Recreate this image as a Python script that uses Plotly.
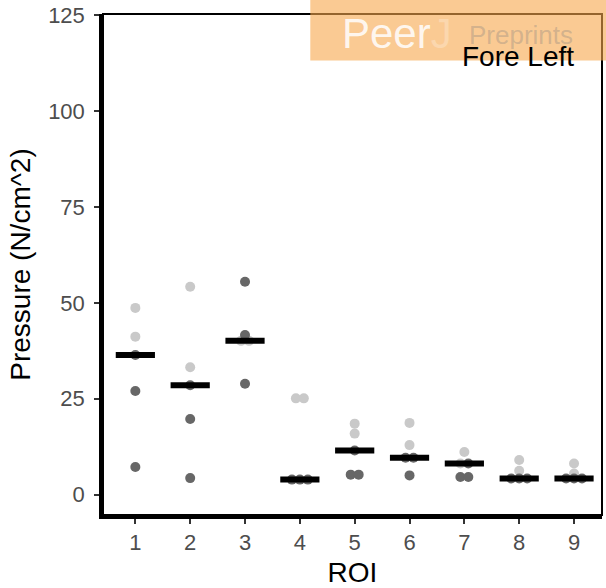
import numpy as np
import plotly.graph_objects as go

# ---- data ----
roi = [1, 2, 3, 4, 5, 6, 7, 8, 9]
light_vals = [[48.7, 41.2], [54.2, 33.2], [40.1, 40.1], [25.1, 25.1], [18.5, 15.9],
              [18.7, 12.9], [11.1, 8.1], [9.0, 6.2], [8.1, 5.5]]
dark_vals = [[36.4, 27.0, 7.2], [28.5, 19.7, 4.3], [55.5, 41.6, 28.9], [3.9, 3.9, 3.9],
             [11.5, 5.2, 5.2], [9.6, 9.6, 5.0], [8.1, 4.6, 4.6], [4.2, 4.2, 4.2], [4.2, 4.2, 4.2]]
y_ticks = [0, 25, 50, 75, 100, 125]
x_title = "ROI"
y_title = "Pressure (N/cm^2)"
panel_label = "Fore Left"

LIGHT = "#c9c9c9"
DARK = "#676767"
FONT = "Liberation Sans, Arial, Helvetica, sans-serif"
DODGE = 0.145

# dodge points of equal value side by side
lx, ly, dx, dy = [], [], [], []
for r, lv, dv in zip(roi, light_vals, dark_vals):
    pts = [(v, "L") for v in lv] + [(v, "D") for v in dv]
    groups = {}
    for v, c in pts:
        groups.setdefault(v, []).append(c)
    for v, cs in groups.items():
        n = len(cs)
        for k, c in enumerate(cs):
            off = (k - (n - 1) / 2) * DODGE
            if c == "L":
                lx.append(r + off); ly.append(v)
            else:
                dx.append(r + off); dy.append(v)

medians = [float(np.median(l + d)) for l, d in zip(light_vals, dark_vals)]

fig = go.Figure()
fig.add_trace(go.Scatter(x=lx, y=ly, mode="markers",
                         marker=dict(color=LIGHT, size=10, line=dict(width=0)),
                         showlegend=False, hoverinfo="skip"))
fig.add_trace(go.Scatter(x=dx, y=dy, mode="markers",
                         marker=dict(color=DARK, size=10, line=dict(width=0)),
                         showlegend=False, hoverinfo="skip"))
# median crossbars
fig.add_trace(go.Scatter(x=roi, y=medians, mode="markers",
                         marker=dict(symbol="line-ew-open", size=28, color="black",
                                     line=dict(color="black", width=6)),
                         showlegend=False, hoverinfo="skip"))

fig.add_annotation(x=9.04, y=114.2, xref="x", yref="y", text=panel_label,
                   showarrow=False, xanchor="right", yanchor="middle",
                   font=dict(family=FONT, size=28, color="black"))

# PeerJ Preprints watermark (pixel positions converted to paper coords)
L, R, T, B = 102.5, 602.0, 14.3, 514.7
def px(x):
    return (x - L) / (R - L)
def py(y):
    return (B - y) / (B - T)

# thin panel border (top/right)
fig.add_shape(type="rect", xref="paper", yref="paper", x0=0, x1=1, y0=0, y1=1,
              line=dict(color="black", width=2), fillcolor="rgba(0,0,0,0)", layer="above")

fig.add_shape(type="rect", xref="paper", yref="paper",
              x0=px(310), x1=px(620), y0=py(60.7), y1=py(-5),
              fillcolor="rgba(247,166,75,0.6)", line=dict(width=0), layer="above")
fig.add_annotation(x=px(397), y=py(34), xref="paper", yref="paper",
                   text="Peer<span style='color:rgba(255,255,255,0.3)'>J</span>",
                   showarrow=False, xanchor="center", yanchor="middle",
                   font=dict(family=FONT, size=42, color="rgba(255,255,255,0.85)"))
fig.add_annotation(x=px(521), y=py(35), xref="paper", yref="paper", text="Preprints",
                   showarrow=False, xanchor="center", yanchor="middle",
                   font=dict(family=FONT, size=26, color="rgba(150,140,130,0.4)"))

axis_common = dict(showgrid=False, zeroline=False, showline=True, mirror=False,
                   linecolor="black", linewidth=3.5, ticks="outside", ticklen=5,
                   tickwidth=1.5, tickcolor="#333333",
                   tickfont=dict(family=FONT, size=22, color="#4d4d4d"))

fig.update_xaxes(range=[0.41, 9.51], tickmode="array", tickvals=roi,
                 ticktext=[str(r) for r in roi],
                 title=dict(text=x_title, font=dict(family=FONT, size=28, color="black"),
                            standoff=12),
                 **axis_common)
fig.update_yaxes(range=[-5.33, 125.37], tickmode="array", tickvals=y_ticks,
                 ticktext=[str(t) for t in y_ticks],
                 title=dict(text=y_title, font=dict(family=FONT, size=28, color="black"),
                            standoff=10),
                 ticklabelstandoff=5,
                 **axis_common)

fig.update_layout(width=606, height=588,
                  margin=dict(l=102.5, r=4, t=14.3, b=73.3, autoexpand=False),
                  plot_bgcolor="white", paper_bgcolor="white",
                  font=dict(family=FONT))

fig.write_html("out.html")
